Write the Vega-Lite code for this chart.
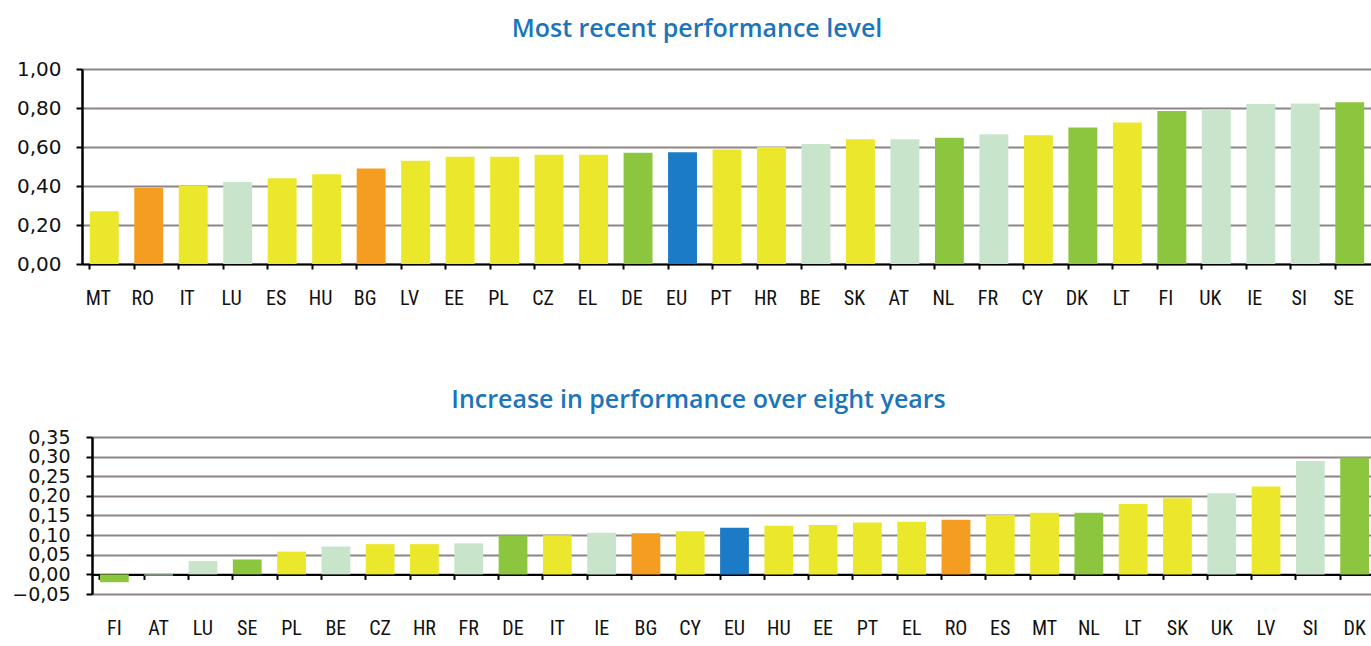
{
  "$schema": "https://vega.github.io/schema/vega-lite/v6.json",
  "padding": {"left": 0, "top": 17, "right": 0, "bottom": 0},
  "background": "white",
  "config": {
    "view": {"stroke": null},
    "axis": {"gridColor": "#8d8585", "gridWidth": 1.8, "gridOpacity": 1, "domainColor": "#000000", "tickColor": "#000000", "labelColor": "#111111", "titleColor": "#111111"}
  },
  "datasets": {
    "recent": [
      {"country": "MT", "value": 0.27, "group": "yellow"},
      {"country": "RO", "value": 0.39, "group": "orange"},
      {"country": "IT", "value": 0.40, "group": "yellow"},
      {"country": "LU", "value": 0.42, "group": "lightgreen"},
      {"country": "ES", "value": 0.44, "group": "yellow"},
      {"country": "HU", "value": 0.46, "group": "yellow"},
      {"country": "BG", "value": 0.49, "group": "orange"},
      {"country": "LV", "value": 0.53, "group": "yellow"},
      {"country": "EE", "value": 0.55, "group": "yellow"},
      {"country": "PL", "value": 0.55, "group": "yellow"},
      {"country": "CZ", "value": 0.56, "group": "yellow"},
      {"country": "EL", "value": 0.56, "group": "yellow"},
      {"country": "DE", "value": 0.57, "group": "green"},
      {"country": "EU", "value": 0.573, "group": "blue"},
      {"country": "PT", "value": 0.587, "group": "yellow"},
      {"country": "HR", "value": 0.60, "group": "yellow"},
      {"country": "BE", "value": 0.616, "group": "lightgreen"},
      {"country": "SK", "value": 0.64, "group": "yellow"},
      {"country": "AT", "value": 0.64, "group": "lightgreen"},
      {"country": "NL", "value": 0.647, "group": "green"},
      {"country": "FR", "value": 0.665, "group": "lightgreen"},
      {"country": "CY", "value": 0.66, "group": "yellow"},
      {"country": "DK", "value": 0.70, "group": "green"},
      {"country": "LT", "value": 0.726, "group": "yellow"},
      {"country": "FI", "value": 0.784, "group": "green"},
      {"country": "UK", "value": 0.794, "group": "lightgreen"},
      {"country": "IE", "value": 0.82, "group": "lightgreen"},
      {"country": "SI", "value": 0.823, "group": "lightgreen"},
      {"country": "SE", "value": 0.83, "group": "green"}
    ],
    "increase": [
      {"country": "FI", "value": -0.02, "group": "green"},
      {"country": "AT", "value": -0.003, "group": "lightgreen"},
      {"country": "LU", "value": 0.034, "group": "lightgreen"},
      {"country": "SE", "value": 0.038, "group": "green"},
      {"country": "PL", "value": 0.058, "group": "yellow"},
      {"country": "BE", "value": 0.071, "group": "lightgreen"},
      {"country": "CZ", "value": 0.077, "group": "yellow"},
      {"country": "HR", "value": 0.077, "group": "yellow"},
      {"country": "FR", "value": 0.079, "group": "lightgreen"},
      {"country": "DE", "value": 0.099, "group": "green"},
      {"country": "IT", "value": 0.10, "group": "yellow"},
      {"country": "IE", "value": 0.106, "group": "lightgreen"},
      {"country": "BG", "value": 0.105, "group": "orange"},
      {"country": "CY", "value": 0.11, "group": "yellow"},
      {"country": "EU", "value": 0.119, "group": "blue"},
      {"country": "HU", "value": 0.124, "group": "yellow"},
      {"country": "EE", "value": 0.126, "group": "yellow"},
      {"country": "PT", "value": 0.132, "group": "yellow"},
      {"country": "EL", "value": 0.134, "group": "yellow"},
      {"country": "RO", "value": 0.139, "group": "orange"},
      {"country": "ES", "value": 0.151, "group": "yellow"},
      {"country": "MT", "value": 0.157, "group": "yellow"},
      {"country": "NL", "value": 0.157, "group": "green"},
      {"country": "LT", "value": 0.179, "group": "yellow"},
      {"country": "SK", "value": 0.194, "group": "yellow"},
      {"country": "UK", "value": 0.207, "group": "lightgreen"},
      {"country": "LV", "value": 0.224, "group": "yellow"},
      {"country": "SI", "value": 0.289, "group": "lightgreen"},
      {"country": "DK", "value": 0.298, "group": "green"}
    ]
  },
  "columns": 1,
  "concat": [
    {
      "data": {"name": "recent"},
      "width": 1290,
      "height": 195,
      "title": {"text": "Most recent performance level", "anchor": "middle", "dx": -30, "fontSize": 25, "font": "Open Sans", "fontWeight": 600, "color": "#1b75bb", "offset": 17},
      "mark": {"type": "bar"},
      "encoding": {
        "x": {"field": "country", "type": "nominal", "sort": null, "title": null,
          "scale": {"paddingInner": 0.35, "paddingOuter": 0.175},
          "axis": {"orient": "bottom", "labelAngle": 0, "labelOverlap": false, "domain": true, "domainWidth": 2, "ticks": true, "tickSize": 5, "tickWidth": 2, "bandPosition": 0, "labelPadding": 19, "labelOffset": -6, "labelFont": "Liberation Sans Narrow, Roboto Condensed, Roboto", "labelFontSize": 20, "grid": false}},
        "y": {"field": "value", "type": "quantitative", "title": null,
          "scale": {"domain": [0, 1]},
          "axis": {"values": [0, 0.2, 0.4, 0.6, 0.8, 1.0], "labelOverlap": false, "labelExpr": "replace(format(datum.value, '.2f'), '.', ',')", "labelFont": "DejaVu Sans", "labelFontSize": 20, "tickSize": 6, "tickWidth": 2, "domainWidth": 2.5, "labelPadding": 15, "grid": true, "minExtent": 82, "maxExtent": 82}},
        "color": {"field": "group", "type": "nominal", "legend": null,
          "scale": {"domain": ["yellow", "orange", "lightgreen", "green", "blue"], "range": ["#ebe82b", "#f59d20", "#c8e5cb", "#8cc63e", "#1c7bc7"]}}
      }
    },
    {
      "data": {"name": "increase"},
      "width": 1295,
      "height": 157,
      "title": {"text": "Increase in performance over eight years", "anchor": "middle", "dx": -31, "fontSize": 25, "font": "Open Sans", "fontWeight": 600, "color": "#1b75bb", "offset": 15},
      "encoding": {
        "y": {"field": "value", "type": "quantitative", "title": null,
          "scale": {"domain": [-0.05, 0.35]},
          "axis": {"values": [-0.05, 0, 0.05, 0.1, 0.15, 0.2, 0.25, 0.3, 0.35], "labelOverlap": false, "labelBound": false, "labelExpr": "replace(format(datum.value, '.2f'), '.', ',')", "labelFont": "DejaVu Sans", "labelFontSize": 19, "tickSize": 6, "tickWidth": 2, "domainWidth": 2.5, "labelPadding": 16, "offset": -10, "grid": true, "minExtent": 82, "maxExtent": 82}},
        "color": {"field": "group", "type": "nominal", "legend": null,
          "scale": {"domain": ["yellow", "orange", "lightgreen", "green", "blue"], "range": ["#ebe82b", "#f59d20", "#c8e5cb", "#8cc63e", "#1c7bc7"]}}
      },
      "layer": [
        {
          "mark": {"type": "bar"},
          "encoding": {
            "x": {"field": "country", "type": "nominal", "sort": null, "title": null,
              "scale": {"paddingInner": 0.35, "paddingOuter": 0.18, "rangeMin": 10},
              "axis": {"orient": "bottom", "offset": -19.6, "domain": true, "domainWidth": 2, "ticks": true, "tickSize": 5, "tickWidth": 2, "bandPosition": 0, "labels": false, "grid": false}}
          }
        },
        {
          "mark": {"type": "bar", "opacity": 0},
          "encoding": {
            "x": {"field": "country", "type": "nominal", "sort": null, "title": null,
              "axis": {"orient": "bottom", "domain": false, "ticks": false, "labelAngle": 0, "labelOverlap": false, "labelPadding": 24, "labelFont": "Liberation Sans Narrow, Roboto Condensed, Roboto", "labelFontSize": 20, "grid": false}}
          }
        }
      ],
      "resolve": {"axis": {"x": "independent"}}
    }
  ],
  "spacing": 80,
  "align": "none"
}
